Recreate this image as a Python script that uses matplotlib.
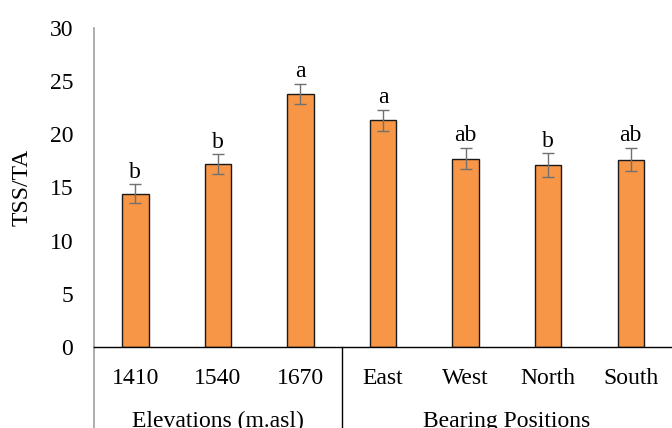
import matplotlib
matplotlib.use("Agg")
import matplotlib.pyplot as plt
import numpy as np

# data
categories = ["1410", "1540", "1670", "East", "West", "North", "South"]
tss_ta = [14.4, 17.2, 23.8, 21.3, 17.7, 17.1, 17.6]
errors = [0.9, 0.9, 0.95, 1.0, 1.0, 1.1, 1.1]
letters = ["b", "b", "a", "a", "ab", "b", "ab"]
groups = ["Elevations (m.asl)", "Bearing Positions"]
group_sizes = [3, 4]
yticks = [0, 5, 10, 15, 20, 25, 30]

plt.rcParams["font.family"] = ["Liberation Serif", "DejaVu Serif"]
FS = 17

fig = plt.figure(figsize=(6.72, 4.28), dpi=100)
ax = fig.add_axes([0.14, 0.189, 0.86, 0.746])

x = np.arange(len(categories))
ax.bar(x, tss_ta, width=0.32, color="#F79646", edgecolor="#1a1a1a", linewidth=1.0, zorder=2)
ax.errorbar(x, tss_ta, yerr=errors, fmt="none", ecolor="#707070", elinewidth=1.0,
            capsize=4, capthick=1.0, zorder=3)

for xi, v, e, lab in zip(x, tss_ta, errors, letters):
    ax.text(xi, v + e + 0.15, lab, ha="center", va="bottom", fontsize=FS)

ax.set_xlim(-0.5, len(categories) - 0.5)
ax.set_ylim(0, 30)
ax.set_yticks(yticks)
ax.tick_params(axis="y", length=0, labelsize=FS, pad=15)
ax.tick_params(axis="x", length=0, labelsize=FS, pad=15)
ax.set_xticks(x)
ax.set_xticklabels(categories)
ax.set_ylabel("TSS/TA", fontsize=FS, labelpad=12)

for side in ["top", "right"]:
    ax.spines[side].set_visible(False)
ax.spines["left"].set_color("#a0a0a0")
ax.spines["left"].set_linewidth(1.2)
ax.spines["bottom"].set_color("black")
ax.spines["bottom"].set_linewidth(1.0)

# group separators and group labels below the axis
start = -0.5
for name, n in zip(groups, group_sizes):
    end = start + n
    first = start == -0.5
    ax.plot([start, start], [0, -0.26], transform=ax.get_xaxis_transform(),
            color="#a0a0a0" if first else "black", lw=1.2 if first else 1.0,
            clip_on=False)
    ax.text((start + end) / 2, -0.2, name, transform=ax.get_xaxis_transform(),
            ha="center", va="top", fontsize=FS)
    start = end

fig.savefig("out.png", dpi=100)
